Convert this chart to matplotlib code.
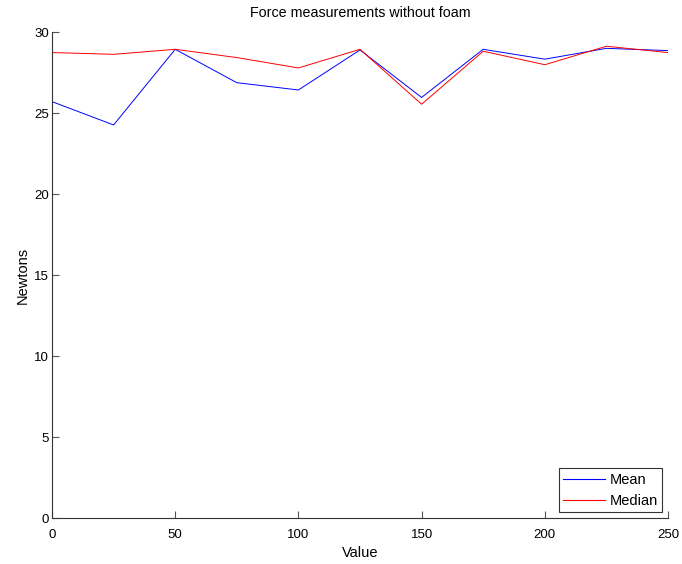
import matplotlib
matplotlib.use("Agg")
import matplotlib.pyplot as plt

x_values = [0, 25, 50, 75, 100, 125, 150, 175, 200, 225, 250]
mean_vals = [25.72, 24.28, 28.95, 26.89, 26.44, 28.91, 25.98, 28.95, 28.34, 29.01, 28.87]
median_vals = [28.75, 28.64, 28.95, 28.44, 27.80, 28.95, 25.56, 28.83, 28.00, 29.14, 28.75]
x_ticks = [0, 50, 100, 150, 200, 250]
y_ticks = [0, 5, 10, 15, 20, 25, 30]
series_colors = ['#0000ff', '#ff0000']

plt.rcParams['font.family'] = ['Liberation Sans', 'DejaVu Sans']

fig = plt.figure(figsize=(6.82, 5.64), dpi=100)
ax = fig.add_axes([52/682, (564-518.3)/564, (668-52)/682, (518.3-32.3)/564])
ax.plot(x_values, mean_vals, color=series_colors[0], lw=0.7, label='Mean')
ax.plot(x_values, median_vals, color=series_colors[1], lw=0.7, label='Median')
ax.set_xlim(0, 250)
ax.set_ylim(0, 30)
ax.set_xticks(x_ticks)
ax.set_yticks(y_ticks)
for s in ['top', 'right']:
    ax.spines[s].set_visible(False)
for s in ['left', 'bottom']:
    ax.spines[s].set_color('#333333')
    ax.spines[s].set_linewidth(0.8)
ax.tick_params(direction='in', length=5, width=0.8, color='#555555', labelsize=9.5)
ax.tick_params(axis='x', pad=8)
ax.tick_params(axis='y', pad=2)
ax.set_title('Force measurements without foam', fontsize=10.3, pad=11)
ax.set_xlabel('Value', fontsize=10.5, labelpad=3)
ax.set_ylabel('Newtons', fontsize=10.5, labelpad=3)
leg = ax.legend(loc='lower right', fontsize=10.5, fancybox=False, framealpha=1,
                edgecolor='#333333', handlelength=2.9, borderaxespad=0.4,
                handletextpad=0.3, borderpad=0.3, labelspacing=0.5)
leg.get_frame().set_linewidth(0.8)
for h, c in zip(leg.get_lines(), series_colors):
    h.set_color(c)
    h.set_linewidth(0.8)
fig.savefig('out.png', dpi=100)
